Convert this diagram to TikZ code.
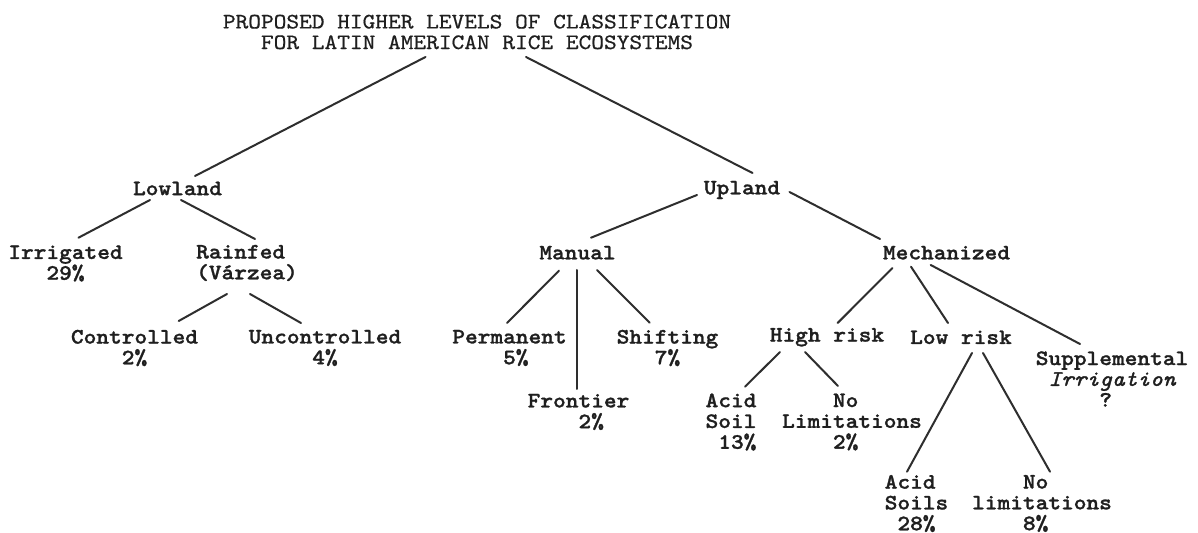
\documentclass[tikz,border=0pt]{standalone}
\usepackage{fontspec}
\setmonofont{lmmonolt10-bold.otf}[BoldFont=lmmonolt10-bold.otf, BoldFeatures={FakeBold=1.2}, ItalicFont=lmmono10-italic.otf, BoldItalicFont=lmmono10-italic.otf, BoldItalicFeatures={FakeBold=1.5}, FakeStretch=1.1]
\newfontfamily\ttlfont{lmmono10-regular.otf}[FakeStretch=1.1, FakeBold=0.6]
\begin{document}
\begin{tikzpicture}[x=0.5pt,y=-0.5pt,
  every node/.style={font=\ttfamily\bfseries\fontsize{11}{10.4}\selectfont, inner sep=0pt, text=black!88},
  ttl/.style={font=\ttlfont\fontsize{11}{10.3}\selectfont, align=center},
  edge/.style={line width=1pt, draw=black!82, line cap=round}]
\useasboundingbox[fill=white] (0,0) rectangle (1198,533);
% nodes
\node[ttl] (title) at (477,32) {PROPOSED HIGHER LEVELS OF CLASSIFICATION\\FOR LATIN AMERICAN RICE ECOSYSTEMS};
\node (lowland) at (177.5,188.5) {Lowland};
\node (upland) at (742,190) {Upland};
\node[align=center] (irrig) at (65.5,263.5) {Irrigated\\29\%};
\node[align=left] (rainfed) at (247,263) {Rainfed\\(Várzea)};
\node (manual) at (577.5,252.7) {Manual};
\node (mech) at (946.5,252.7) {Mechanized};
\node[align=center] (contr) at (134.5,348) {Controlled\\2\%};
\node[align=center] (uncontr) at (325,348) {Uncontrolled\\4\%};
\node[align=left] (perm) at (509.5,348) {Permanent\\\hphantom{0000}5\%};
\node[align=left] (front) at (578.5,412) {Frontier\\\hphantom{0000}2\%};
\node[align=center] (shift) at (667.5,348) {Shifting\\7\%};
\node (high) at (827,337.3) {High risk};
\node (low) at (961,337.3) {Low risk};
\node[align=left] (suppl) at (1112,379) {Supplemental\\\hphantom{0}\textit{Irrigation}\\\hphantom{00000}?};
\node[align=right] (acidA) at (731,422) {Acid\\Soil\\13\%};
\node[align=left] (nolimA) at (852,422) {\hphantom{0000}No\\Limitations\\\hphantom{0000}2\%};
\node[align=left] (acidB) at (916.5,503.5) {Acid\\Soils\\\hphantom{0}28\%};
\node[align=left] (nolimB) at (1042,503.5) {\hphantom{0000}No\\limitations\\\hphantom{0000}8\%};
% connectors
\draw[edge] ([shift={(-51.5,25)}]title.center) -- ([shift={(17.5,-12.5)}]lowland.center);
\draw[edge] ([shift={(49,25)}]title.center) -- ([shift={(10.5,-17)}]upland.center);
\draw[edge] ([shift={(-27.5,11.5)}]lowland.center) -- ([shift={(13,-25.8)}]irrig.center);
\draw[edge] ([shift={(3.5,11.5)}]lowland.center) -- ([shift={(8,-24)}]rainfed.center);
\draw[edge] ([shift={(-45,5)}]upland.center) -- ([shift={(13.5,-15)}]manual.center);
\draw[edge] ([shift={(47.5,2)}]upland.center) -- ([shift={(-66.5,-13.7)}]mech.center);
\draw[edge] ([shift={(-20,31)}]rainfed.center) -- ([shift={(44.2,-27)}]contr.center);
\draw[edge] ([shift={(3,31)}]rainfed.center) -- ([shift={(-24,-25)}]uncontr.center);
\draw[edge] ([shift={(-18.5,18)}]manual.center) -- ([shift={(-2.5,-25)}]perm.center);
\draw[edge] ([shift={(-0.5,17.3)}]manual.center) -- ([shift={(-1.5,-23)}]front.center);
\draw[edge] ([shift={(19.5,17.3)}]manual.center) -- ([shift={(-17.9,-25.3)}]shift.center);
\draw[edge] ([shift={(-54,15.3)}]mech.center) -- ([shift={(10.6,-14.3)}]high.center);
\draw[edge] ([shift={(-35.5,14)}]mech.center) -- ([shift={(-13,-14.3)}]low.center);
\draw[edge] ([shift={(-15.8,12.3)}]mech.center) -- ([shift={(-32,-35)}]suppl.center);
\draw[edge] ([shift={(-47,14.7)}]high.center) -- ([shift={(14,-35.3)}]acidA.center);
\draw[edge] ([shift={(-22,14.7)}]high.center) -- ([shift={(-14,-36)}]nolimA.center);
\draw[edge] ([shift={(11,15.7)}]low.center) -- ([shift={(-9.5,-31.8)}]acidB.center);
\draw[edge] ([shift={(22,15.7)}]low.center) -- ([shift={(8,-31.8)}]nolimB.center);
\end{tikzpicture}
\end{document}
